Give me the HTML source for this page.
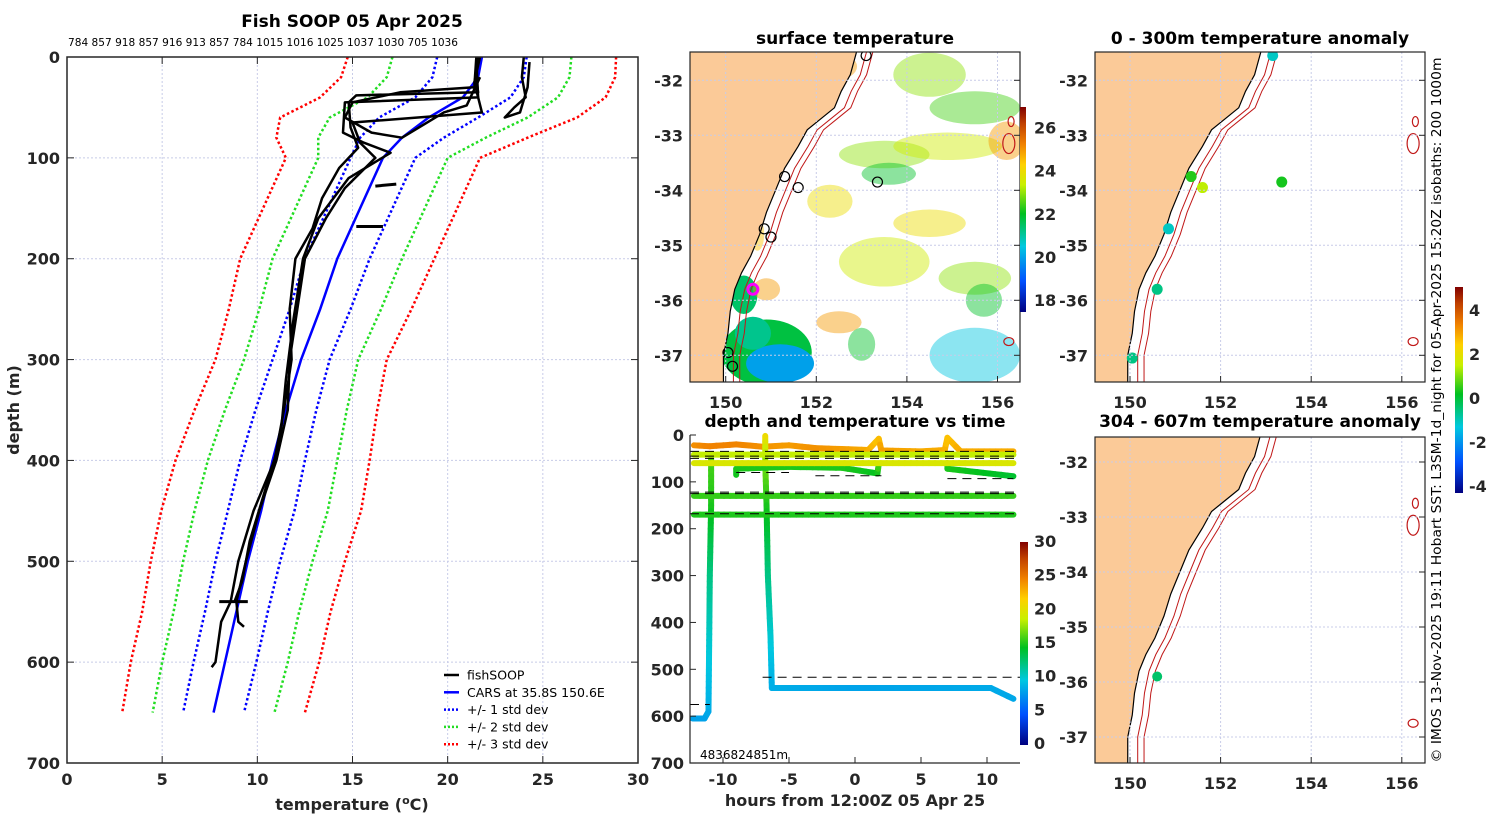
<!DOCTYPE html>
<html><head><meta charset="utf-8"><style>
html,body{margin:0;padding:0;background:#fff}
svg{display:block;font-family:"DejaVu Sans","Liberation Sans",sans-serif}
.tk{font-weight:bold;font-size:16px;fill:#262626}
.tt{font-weight:bold;font-size:17px;fill:#000}
</style></head><body>
<svg id="fig" width="1500" height="820" viewBox="0 0 1500 820" xmlns="http://www.w3.org/2000/svg">
<defs>
<linearGradient id="jet" x1="0" y1="1" x2="0" y2="0">
<stop offset="0" stop-color="#00007f"/><stop offset="0.15" stop-color="#0050ff"/><stop offset="0.32" stop-color="#00c8e0"/><stop offset="0.48" stop-color="#00c020"/><stop offset="0.62" stop-color="#c8f000"/><stop offset="0.72" stop-color="#ffd000"/><stop offset="0.82" stop-color="#f08000"/><stop offset="0.92" stop-color="#c04000"/><stop offset="1" stop-color="#800000"/>
</linearGradient>
<clipPath id="c1"><rect x="690" y="52" width="330" height="330"/></clipPath>
<clipPath id="c2"><rect x="1095" y="52" width="330" height="330"/></clipPath>
<clipPath id="c3"><rect x="1095" y="437" width="330" height="326"/></clipPath>
</defs>
<g id="root"></g>
</svg>
<script>
// ---------- data ----------
const stationIds = "784 857 918 857 916 913 857 784 1015 1016 1025 1037 1030 705 1036";
const carsDepths = [0,20,40,60,80,100,150,200,250,300,350,400,450,500,550,600,650];
const carsMean   = [21.8,21.6,20.8,19.0,17.6,16.6,15.4,14.2,13.3,12.3,11.5,10.8,10.2,9.5,8.9,8.3,7.7];
const carsStd    = [2.35,2.4,2.5,2.6,2.2,1.7,1.7,1.7,1.6,1.5,1.6,1.7,1.75,1.7,1.65,1.65,1.6];
const fishCastA = [[21.6,0],[21.5,20],[21.6,35],[15.2,38],[14.8,45],[14.9,70],[15.3,90],[14.3,110],[13.4,140],[12.9,170],[12.0,200],[11.7,250],[11.8,300],[11.4,350],[10.9,400],[9.8,450],[9.0,500],[8.6,540],[8.1,560],[7.8,600],[7.6,605]];
const fishCastB = [[21.7,0],[21.4,25],[21.8,55],[15.0,65],[15.4,85],[16.2,100],[14.6,130],[13.6,160],[12.5,200],[12.1,250],[11.7,300],[11.6,350],[11.0,400],[10.1,450],[9.4,500],[8.9,540],[9.0,560],[9.3,565]];
const fishCastC = [[21.5,0],[21.6,40],[14.6,45],[14.5,75],[15.6,85],[17.0,95],[14.8,120],[13.2,160],[12.4,200],[11.9,260],[11.5,320],[11.2,380],[10.4,430],[9.6,480],[9.2,520],[8.8,540]];
const fishCastD = [[21.5,2],[21.4,30],[17.5,35],[15.0,45],[14.6,60],[16.0,75],[17.6,80],[19.8,55],[21.0,48],[21.7,20]];
const fishCastE = [[24.0,0],[23.9,20],[24.1,40],[23.5,50],[23.0,60],[23.8,55],[24.2,30],[24.3,5]];
const fishBits = [[[16.2,128],[17.3,126]],[[15.2,168],[16.6,168]],[[8.0,540],[9.5,540]]];

const surfTrack = [[-12.2,22,24],[-11,24,24.5],[-9,20,24.5],[-7,25,24],[-5,22,23.5],[-3,28,24],[-1,30,23.5],[1,32,23],[1.8,8,22],[2,33,23.5],[5,35,23],[6.8,32,23],[7,6,22],[8,35,23],[12,35,23]];
const band40 = [[-12.2,42,18.5],[12,42,18.5]];
const band60 = [[-12.2,60,19.5],[12,60,19.5]];
const band128 = [[-12.2,130,15.5],[12,130,15.5]];
const band170 = [[-12.2,170,15],[12,170,15]];
const castEarly = [[-10.9,50,16],[-10.9,150,15],[-11,300,12],[-11.05,450,10],[-11.1,590,8.5],[-11.4,605,8],[-12.3,605,8]];
const castLate = [[-6.8,2,21],[-6.8,60,17],[-6.7,150,15],[-6.6,300,12],[-6.4,430,10],[-6.3,540,8.5],[0,540,8],[10.3,540,8.3],[12,563,8.2]];
const midTrackA = [[-9,85,14.5],[-9,72,15],[-5,68,15],[-1,70,15],[1.7,82,14.5],[1.8,62,16]];
const midTrackB = [[7,60,16],[7,72,15],[12,88,14]];
const dashLines = [[35,-12.5,12.5],[45,-12.5,12.5],[50,-12.5,12.5],[122,-12.5,12.5],[125,-12.5,12.5],[168,-12.5,12.5],[517,-7,12.5],[575,-12.5,-11],[80,-9,-5],[87,-3,2],[93,7,12]];

const coastLine = [[152.9,-31.45],[152.75,-31.9],[152.55,-32.2],[152.4,-32.5],[152.1,-32.7],[151.8,-32.9],[151.6,-33.2],[151.3,-33.6],[151.1,-34.0],[150.9,-34.4],[150.75,-34.8],[150.55,-35.2],[150.35,-35.5],[150.2,-35.8],[150.1,-36.2],[150.05,-36.6],[149.95,-37.0],[149.95,-37.55]];
const isoShift = [0.22,0.36];
const sstBlobs = [[152.4,-31.75,0.5,0.25,25],[154.5,-31.9,0.8,0.4,23],[155.5,-32.5,1.0,0.3,22.5],[153.5,-33.35,1.0,0.25,23],[154.9,-33.2,1.2,0.25,23.5],[156.2,-33.1,0.4,0.35,25],[153.6,-33.7,0.6,0.2,22],[152.3,-34.2,0.5,0.3,24],[154.5,-34.6,0.8,0.25,24],[153.5,-35.3,1.0,0.45,23.5],[155.5,-35.6,0.8,0.3,23],[152.5,-36.4,0.5,0.2,25],[155.5,-37.0,1.0,0.5,20.5],[155.7,-36.0,0.4,0.3,22],[150.9,-35.8,0.3,0.2,25],[150.7,-34.8,0.15,0.3,24.5],[153.0,-36.8,0.3,0.3,22]];
const sstSolid = [[150.9,-36.95,1.0,0.6,21.8],[151.2,-37.15,0.75,0.35,20],[150.4,-35.9,0.3,0.35,21.5],[150.6,-36.6,0.4,0.3,21.2]];
const anomDots1 = [[153.15,-31.55,-1],[151.35,-33.75,0.5],[151.6,-33.95,1.5],[153.35,-33.85,0.4],[150.85,-34.7,-1],[150.6,-35.8,-0.5],[150.05,-37.05,-0.5]];
const anomDots2 = [[150.6,-35.9,-0.3]];

// ---------- helpers ----------
const NS="http://www.w3.org/2000/svg";
const root=document.getElementById('root');
function mk(tag,attrs,parent){const e=document.createElementNS(NS,tag);for(const k in attrs)e.setAttribute(k,attrs[k]);(parent||root).appendChild(e);return e;}
const stops=[[0,[0,0,127]],[0.15,[0,80,255]],[0.32,[0,200,224]],[0.48,[0,192,32]],[0.62,[200,240,0]],[0.72,[255,208,0]],[0.82,[240,128,0]],[0.92,[192,64,0]],[1,[128,0,0]]];
function cmap(v,lo,hi){let t=Math.max(0,Math.min(1,(v-lo)/(hi-lo)));for(let i=1;i<stops.length;i++){if(t<=stops[i][0]){const a=stops[i-1],b=stops[i];const f=(t-a[0])/(b[0]-a[0]);const c=a[1].map((x,j)=>Math.round(x+(b[1][j]-x)*f));return `rgb(${c[0]},${c[1]},${c[2]})`;}}return 'rgb(128,0,0)';}
function txt(x,y,s,cls,extra,parent){const a={x:x,y:y};if(cls)a['class']=cls;const e=mk('text',Object.assign(a,extra||{}),parent);e.textContent=s;return e;}

// ---------- main profile chart ----------
const X=t=>67+t*19.033, Y=d=>57+d*1.00857;
const gMain=mk('g',{});


for(let t=5;t<30;t+=5){const g=mk('line',{x1:X(t),y1:57,x2:X(t),y2:763,stroke:'#c8cce8','stroke-width':1,'stroke-dasharray':'2,2'},gMain);

}
for(let d=100;d<700;d+=100){const g=mk('line',{x1:67,y1:Y(d),x2:638,y2:Y(d),stroke:'#c8cce8','stroke-width':1,'stroke-dasharray':'2,2'},gMain);

}
function profPath(temps,width,color,dash,name){const pts=carsDepths.map((d,i)=>X(temps[i])+','+Y(d)).join(' ');const p=mk('polyline',{points:pts,fill:'none',stroke:color,'stroke-width':width,'stroke-dasharray':dash||'none'},gMain);

}
const sdCols=['#0000ff','#22dd22','#ff0000'];
for(let k=1;k<=3;k++){
profPath(carsMean.map((m,i)=>m-k*carsStd[i]),2.5,sdCols[k-1],'2.5,2.5','std-'+k+'-lower');
profPath(carsMean.map((m,i)=>m+k*carsStd[i]),2.5,sdCols[k-1],'2.5,2.5','std-'+k+'-upper');}
profPath(carsMean,2.5,'#0000ff',null,'cars-mean-line');
[fishCastA,fishCastB,fishCastC,fishCastD,fishCastE].forEach(c=>{const p=mk('polyline',{points:c.map(q=>X(q[0])+','+Y(q[1])).join(' '),fill:'none',stroke:'#000','stroke-width':2.5,'stroke-linejoin':'round'},gMain);

});
fishBits.forEach(c=>{const p=mk('polyline',{points:c.map(q=>X(q[0])+','+Y(q[1])).join(' '),fill:'none',stroke:'#000','stroke-width':3},gMain);

});
const frame=mk('rect',{x:67,y:57,width:571,height:706,fill:'none',stroke:'#262626','stroke-width':1.5},gMain);


for(let t=0;t<=30;t+=5){const l=txt(X(t),785,String(t),'tk',{'text-anchor':'middle'},gMain);


mk('line',{x1:X(t),y1:763,x2:X(t),y2:756,stroke:'#262626'},gMain);mk('line',{x1:X(t),y1:57,x2:X(t),y2:64,stroke:'#262626'},gMain);}
for(let d=0;d<=700;d+=100){const l=txt(60,Y(d)+6,String(d),'tk',{'text-anchor':'end'},gMain);


mk('line',{x1:67,y1:Y(d),x2:74,y2:Y(d),stroke:'#262626'},gMain);mk('line',{x1:638,y1:Y(d),x2:631,y2:Y(d),stroke:'#262626'},gMain);}
let e=txt(352,27,'Fish SOOP 05 Apr 2025','tt',{'text-anchor':'middle'},gMain);


e=txt(68,46,stationIds,null,{'font-size':'11px',textLength:390,lengthAdjust:'spacingAndGlyphs',fill:'#000'},gMain);


e=txt(352,810,'','tk',{'text-anchor':'middle','font-size':'16px'},gMain);
e.innerHTML='temperature (<tspan dy="-6" font-size="11">o</tspan><tspan dy="6">C)</tspan>';


e=txt(0,0,'depth (m)','tk',{'text-anchor':'middle','font-size':'16px',transform:'translate(19,410) rotate(-90)'},gMain);


const legItems=[['fishSOOP','#000',null],['CARS at 35.8S 150.6E','#0000ff',null],['+/- 1 std dev','#0000ff','2,2'],['+/- 2 std dev','#22dd22','2,2'],['+/- 3 std dev','#ff0000','2,2']];
legItems.forEach((it,i)=>{const y=675+i*17.3;const g=mk('g',{},gMain);


mk('line',{x1:444,y1:y,x2:459,y2:y,stroke:it[1],'stroke-width':2.5,'stroke-dasharray':it[2]||'none'},g);
txt(467,y+4.5,it[0],null,{'font-size':'12.5px',fill:'#000'},g);});

// ---------- map helpers ----------
function MX(lon,ox){return 725.7+(lon-150)*45.3+ox;}
function MY(lat,oy){return 80.3+(-32-lat)*55+oy;}
function drawMap(ox,oy,clip,box,name){
const g=mk('g',{'clip-path':'url(#'+clip+')'});


return g;}
function drawLand(ox,oy,g){
const land=coastLine.map(p=>MX(p[0],ox)+','+MY(p[1],oy));
const lp=mk('polygon',{points:[MX(148,ox)+','+MY(-31,oy)].concat(land,[MX(148,ox)+','+MY(-38,oy)]).join(' '),fill:'#fbca98',stroke:'#000','stroke-width':1.2},g);

}
function drawGridAndAxes(ox,oy,box,parent){
for(let lon=150;lon<=156;lon+=2){mk('line',{x1:MX(lon,ox),y1:box[1],x2:MX(lon,ox),y2:box[1]+box[3],stroke:'#c8cce8','stroke-dasharray':'2,2'},parent);
const l=txt(MX(lon,ox),box[1]+box[3]+26,String(lon),'tk',{'text-anchor':'middle'});


mk('line',{x1:MX(lon,ox),y1:box[1]+box[3],x2:MX(lon,ox),y2:box[1]+box[3]-6,stroke:'#262626'});}
for(let lat=-32;lat>=-37;lat--){mk('line',{x1:box[0],y1:MY(lat,oy),x2:box[0]+box[2],y2:MY(lat,oy),stroke:'#c8cce8','stroke-dasharray':'2,2'},parent);
const l=txt(box[0]-7,MY(lat,oy)+6,String(lat),'tk',{'text-anchor':'end'});


mk('line',{x1:box[0]+box[2],y1:MY(lat,oy),x2:box[0]+box[2]-6,y2:MY(lat,oy),stroke:'#262626'});}}
function drawIso(ox,oy,parent){isoShift.forEach(s=>{const p=mk('polyline',{points:coastLine.map(q=>MX(q[0]+s,ox)+','+MY(q[1],oy)).join(' '),fill:'none',stroke:'#c01818','stroke-width':1},parent);

});
[[156.25,-33.15,6,10],[156.3,-32.75,3,5],[156.25,-36.75,5,4]].forEach(q=>{const c=mk('ellipse',{cx:MX(q[0],ox),cy:MY(q[1],oy),rx:q[2],ry:q[3],fill:'none',stroke:'#c01818','stroke-width':1.2},parent);

});}
function frameBox(b,name){const r=mk('rect',{x:b[0],y:b[1],width:b[2],height:b[3],fill:'none',stroke:'#262626','stroke-width':1.2});

}

// ---------- SST map ----------
const b1=[690,52,330,330];
const gS=drawMap(0,0,'c1',b1,'surface-temperature-map');
sstSolid.forEach(q=>{const c=mk('ellipse',{cx:MX(q[0],0),cy:MY(q[1],0),rx:q[2]*45.3,ry:q[3]*55,fill:cmap(q[4],17.5,27)},gS);

});
sstBlobs.forEach(q=>{const c=mk('ellipse',{cx:MX(q[0],0),cy:MY(q[1],0),rx:q[2]*45.3,ry:q[3]*55,fill:cmap(q[4],17.5,27),opacity:0.45},gS);

});
drawLand(0,0,gS);
drawIso(0,0,gS);
[[153.1,-31.55],[151.3,-33.75],[151.6,-33.95],[153.35,-33.85],[150.85,-34.7],[151.0,-34.85],[150.05,-36.95],[150.15,-37.2]].forEach(q=>{const c=mk('circle',{cx:MX(q[0],0),cy:MY(q[1],0),r:5,fill:'none',stroke:'#000','stroke-width':1.2},gS);

});
e=mk('circle',{cx:MX(150.6,0),cy:MY(-35.8,0),r:5,fill:'none',stroke:'#ff00ff','stroke-width':3},gS);


drawGridAndAxes(0,0,b1,gS);
frameBox(b1,'sst-map-frame');
e=txt(855,44,'surface temperature','tt',{'text-anchor':'middle'});


e=mk('rect',{x:1020,y:107,width:6,height:205,fill:'url(#jet)'});


[18,20,22,24,26].forEach(v=>{const y=312-(v-17.5)/(27-17.5)*205;const l=txt(1034,y+5,String(v),'tk',{'font-size':'14px'});

});

// ---------- time panel ----------
const TX=h=>855+h*13.2, TY=d=>435+d*0.4686;
const gT=mk('g',{});


function track(arr,name){for(let i=1;i<arr.length;i++){const a=arr[i-1],b=arr[i];const n=Math.max(1,Math.round(Math.hypot(TX(b[0])-TX(a[0]),TY(b[1])-TY(a[1]))/6));for(let k=0;k<n;k++){const f0=k/n,f1=(k+1)/n;const tv=a[2]+(b[2]-a[2])*(f0+f1)/2;const s=mk('line',{x1:TX(a[0]+(b[0]-a[0])*f0),y1:TY(a[1]+(b[1]-a[1])*f0),x2:TX(a[0]+(b[0]-a[0])*f1),y2:TY(a[1]+(b[1]-a[1])*f1),stroke:cmap(tv,0,30),'stroke-width':6,'stroke-linecap':'round'},gT);

}}}
track(surfTrack,'surface-track');
track(castEarly,'early-cast-track');
track(castLate,'late-cast-track');
track(midTrackA,'mid-track');
track(midTrackB,'mid-track');
track(band40,'band-40m');
track(band60,'band-60m');
track(band128,'band-128m');
track(band170,'band-170m');
dashLines.forEach(q=>{const l=mk('line',{x1:TX(q[1]),y1:TY(q[0]),x2:TX(q[2]),y2:TY(q[0]),stroke:'#000','stroke-width':1,'stroke-dasharray':'9,6'},gT);

});
e=mk('path',{d:'M690,435 V763 H1020',fill:'none',stroke:'#262626','stroke-width':1.2});


for(let h=-10;h<=10;h+=5){const l=txt(TX(h),785,String(h),'tk',{'text-anchor':'middle'});


mk('line',{x1:TX(h),y1:763,x2:TX(h),y2:757,stroke:'#262626'});}
for(let d=0;d<=700;d+=100){const l=txt(684,TY(d)+6,String(d),'tk',{'text-anchor':'end'});


mk('line',{x1:690,y1:TY(d),x2:696,y2:TY(d),stroke:'#262626'});}
e=txt(855,427,'depth and temperature vs time','tt',{'text-anchor':'middle'});


e=txt(855,806,'hours from 12:00Z 05 Apr 25','tk',{'text-anchor':'middle','font-size':'17px'});


e=txt(700,759,'4836824851m',null,{'font-size':'12px',fill:'#000'});


e=mk('rect',{x:1020,y:542,width:8,height:203,fill:'url(#jet)'});


[0,5,10,15,20,25,30].forEach(v=>{const y=744-v/30*202;const l=txt(1034,y+5,String(v),'tk',{'font-size':'13px'});

});

// ---------- anomaly maps ----------
const b2=[1095,52,330,330], b3=[1095,437,330,326];
const gA=drawMap(404.3,0,'c2',b2,'anomaly-map-0-300m');
drawLand(404.3,0,gA);
drawIso(404.3,0,gA);
anomDots1.forEach(q=>{const c=mk('circle',{cx:MX(q[0],404.3),cy:MY(q[1],0),r:5.5,fill:cmap(q[2],-4.2,5.1)},gA);

});
drawGridAndAxes(404.3,0,b2,gA);
frameBox(b2,'anomaly-map-1-frame');
e=txt(1260,44,'0 - 300m temperature anomaly','tt',{'text-anchor':'middle'});


const gB=drawMap(404.3,381.7,'c3',b3,'anomaly-map-304-607m');
drawLand(404.3,381.7,gB);
drawIso(404.3,381.7,gB);
anomDots2.forEach(q=>{const c=mk('circle',{cx:MX(q[0],404.3),cy:MY(q[1],381.7),r:5,fill:cmap(q[2],-4.2,5.1)},gB);

});
drawGridAndAxes(404.3,381.7,b3,gB);
frameBox(b3,'anomaly-map-2-frame');
e=txt(1260,427,'304 - 607m temperature anomaly','tt',{'text-anchor':'middle'});


e=mk('rect',{x:1455,y:287,width:8,height:206,fill:'url(#jet)'});


[4,2,0,-2,-4].forEach(v=>{const y=399-v*22;const l=txt(1469,y+5,String(v),'tk',{'font-size':'12px'});

});
e=txt(0,0,'© IMOS 13-Nov-2025 19:11 Hobart SST: L3SM-1d_night for 05-Apr-2025 15:20Z isobaths: 200  1000m',null,{'font-size':'13px',fill:'#000','text-anchor':'middle',transform:'translate(1441,410) rotate(-90)',textLength:705,lengthAdjust:'spacingAndGlyphs'});


</script>
</body></html>
